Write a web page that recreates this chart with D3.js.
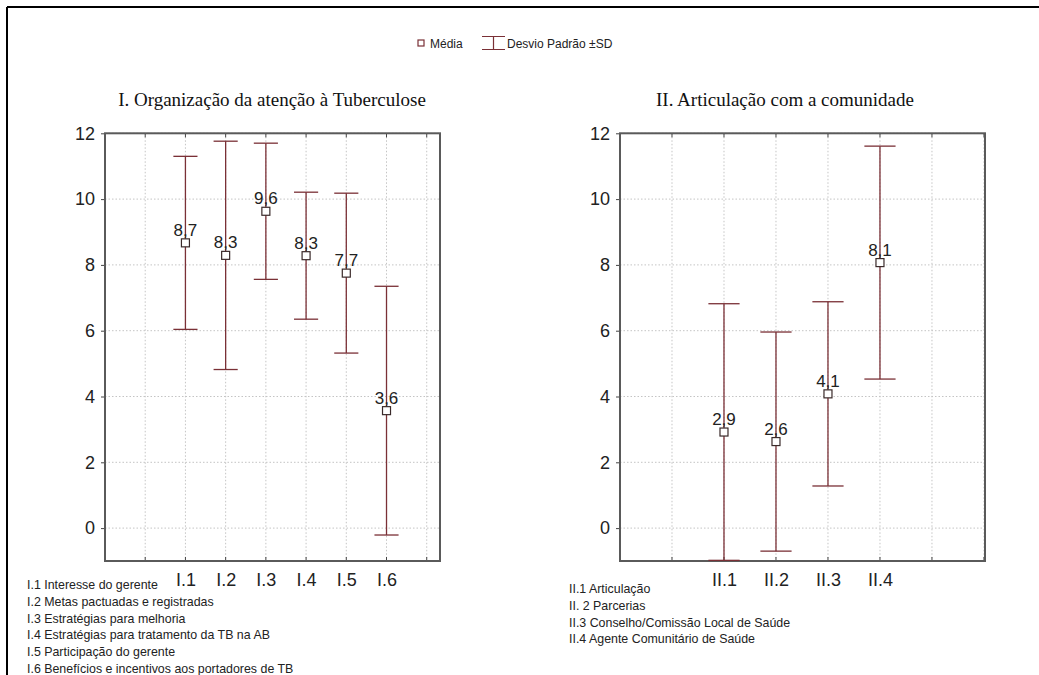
<!DOCTYPE html>
<html>
<head>
<meta charset="utf-8">
<script src="https://cdn.jsdelivr.net/npm/d3@7"></script>
<style>
  body { margin: 0; background: #fff; }
  svg { display: block; }
</style>
</head>
<body>
<div id="chart"></div>
<script>
// chart size
var width = 1039;
var height = 675;

// panel I data
var catsA = ["I.1", "I.2", "I.3", "I.4", "I.5", "I.6"];
var meanA = [8.67, 8.29, 9.63, 8.28, 7.75, 3.57];
var sdA = [2.63, 3.47, 2.07, 1.93, 2.43, 3.78];
var labelA = ["8,7", "8,3", "9,6", "8,3", "7,7", "3,6"];
var notesA = [
  "I.1 Interesse do gerente",
  "I.2 Metas pactuadas e registradas",
  "I.3 Estratégias para melhoria",
  "I.4 Estratégias para tratamento da TB na AB",
  "I.5 Participação do gerente",
  "I.6 Benefícios e incentivos aos portadores de TB"
];

// panel II data
var catsB = ["II.1", "II.2", "II.3", "II.4"];
var meanB = [2.92, 2.63, 4.08, 8.07];
var sdB = [3.9, 3.33, 2.8, 3.54];
var labelB = ["2,9", "2,6", "4,1", "8,1"];
var notesB = [
  "II.1 Articulação",
  "II. 2 Parcerias",
  "II.3 Conselho/Comissão Local de Saúde",
  "II.4 Agente Comunitário de Saúde"
];

var yTicks = [0, 2, 4, 6, 8, 10, 12];

var lineColor = "#7a3036";

var svg = d3.select("#chart").append("svg")
    .attr("width", width).attr("height", height);

// outer border (top and left)
svg.append("line").attr("x1", 7).attr("x2", width).attr("y1", 7).attr("y2", 7)
    .attr("stroke", "#000").attr("stroke-width", 2);
svg.append("line").attr("x1", 7).attr("x2", 7).attr("y1", 7).attr("y2", height)
    .attr("stroke", "#000").attr("stroke-width", 2);

// legend
var leg = svg.append("g").attr("font-family", "Liberation Sans, Arial, sans-serif")
    .attr("font-size", 12).attr("fill", "#222");
leg.append("rect").attr("x", 418).attr("y", 40).attr("width", 6).attr("height", 6)
    .attr("fill", "#fff").attr("stroke", lineColor).attr("stroke-width", 1.2);
leg.append("text").attr("x", 430).attr("y", 47.5).text("Média");
leg.append("path").attr("d", "M482,36.5H505M493.5,36.5V49.5M482,49.5H505")
    .attr("stroke", lineColor).attr("fill", "none").attr("stroke-width", 1.2);
leg.append("text").attr("x", 507).attr("y", 47.5).text("Desvio Padrão ±SD");

function panel(opt) {
    var g = svg.append("g");
    var x = d3.scaleLinear().domain([0, opt.xMax]).range([opt.left, opt.right]);
    var y = d3.scaleLinear().domain([-1, 12]).range([561, 133.3]);
    var step = x(1) - x(0);

    // title
    g.append("text")
        .attr("x", opt.titleX).attr("y", 106)
        .attr("text-anchor", "middle")
        .attr("font-family", "Liberation Serif, Times New Roman, serif")
        .attr("font-size", 19).attr("fill", "#111")
        .text(opt.title);

    var xt = d3.range(1, Math.floor(opt.xMax) + 1);

    // grid
    g.selectAll(".gx").data(xt).enter().append("line")
        .attr("x1", d => x(d)).attr("x2", d => x(d))
        .attr("y1", y(12)).attr("y2", y(-1))
        .attr("stroke", "#c4c4c4").attr("stroke-dasharray", "1.5,2");
    g.selectAll(".gy").data(yTicks).enter().append("line")
        .attr("x1", x(0)).attr("x2", x(opt.xMax))
        .attr("y1", d => y(d)).attr("y2", d => y(d))
        .attr("stroke", "#c4c4c4").attr("stroke-dasharray", "1.5,2");

    // left axis
    var ay = d3.axisLeft(y).tickValues(yTicks).tickSize(4).tickPadding(6);
    var gy = g.append("g").attr("transform", "translate(" + x(0) + ",0)").call(ay);
    gy.select(".domain").remove();
    gy.selectAll("line").attr("stroke", "#444");
    gy.selectAll("text").attr("font-family", "Liberation Sans, Arial, sans-serif")
        .attr("font-size", 18).attr("fill", "#222");

    // bottom axis with category labels
    var ax = d3.axisBottom(x).tickValues(opt.cats.map((c, i) => i + 2))
        .tickFormat((d, i) => opt.cats[i]).tickSize(0).tickPadding(12);
    var gx = g.append("g").attr("transform", "translate(0," + y(-1) + ")").call(ax);
    gx.select(".domain").remove();
    gx.selectAll("text").attr("font-family", "Liberation Sans, Arial, sans-serif")
        .attr("font-size", 18).attr("fill", "#222");

    // inner ticks top and bottom
    g.selectAll(".tt").data(xt).enter().append("line")
        .attr("x1", d => x(d)).attr("x2", d => x(d))
        .attr("y1", y(12)).attr("y2", y(12) + 4).attr("stroke", "#444");
    g.selectAll(".tb").data(xt).enter().append("line")
        .attr("x1", d => x(d)).attr("x2", d => x(d))
        .attr("y1", y(-1)).attr("y2", y(-1) - 4).attr("stroke", "#444");

    // frame
    g.append("rect").attr("x", x(0)).attr("y", y(12))
        .attr("width", x(opt.xMax) - x(0)).attr("height", y(-1) - y(12))
        .attr("fill", "none").attr("stroke", "#5a5a5a").attr("stroke-width", 2);

    var data = opt.cats.map((c, i) => ({ pos: i + 2, m: opt.mean[i], sd: opt.sd[i], lab: opt.labels[i] }));
    var cap = step * 0.3;

    var bars = g.selectAll(".eb").data(data).enter().append("g");
    bars.append("line")
        .attr("x1", d => x(d.pos)).attr("x2", d => x(d.pos))
        .attr("y1", d => y(Math.min(12, d.m + d.sd))).attr("y2", d => y(Math.max(-1, d.m - d.sd)))
        .attr("stroke", lineColor).attr("stroke-width", 1.3);
    bars.append("line")
        .attr("x1", d => x(d.pos) - cap).attr("x2", d => x(d.pos) + cap)
        .attr("y1", d => y(d.m + d.sd)).attr("y2", d => y(d.m + d.sd))
        .attr("stroke", lineColor).attr("stroke-width", 1.3);
    bars.append("line")
        .attr("x1", d => x(d.pos) - cap).attr("x2", d => x(d.pos) + cap)
        .attr("y1", d => y(Math.max(-1, d.m - d.sd))).attr("y2", d => y(Math.max(-1, d.m - d.sd)))
        .attr("stroke", lineColor).attr("stroke-width", 1.3);
    bars.append("text")
        .attr("x", d => x(d.pos)).attr("y", d => y(d.m) - 7)
        .attr("text-anchor", "middle")
        .attr("font-family", "Liberation Sans, Arial, sans-serif")
        .attr("font-size", 17).attr("fill", "#222")
        .text(d => d.lab);
    bars.append("rect")
        .attr("x", d => x(d.pos) - 4).attr("y", d => y(d.m) - 4)
        .attr("width", 8).attr("height", 8)
        .attr("fill", "#fff").attr("stroke", "#3a2a2a").attr("stroke-width", 1.2);

    // notes below
    g.selectAll(".note").data(opt.notes).enter().append("text")
        .attr("x", opt.noteX).attr("y", (d, i) => opt.noteY + i * 16.8)
        .attr("font-family", "Liberation Sans, Arial, sans-serif")
        .attr("font-size", 12.4).attr("fill", "#222")
        .text(d => d);
}

panel({
    cats: catsA, mean: meanA, sd: sdA, labels: labelA, notes: notesA,
    title: "I. Organização da atenção à Tuberculose", titleX: 272,
    left: 105, right: 440, xMax: 8.33, noteX: 27, noteY: 589
});

panel({
    cats: catsB, mean: meanB, sd: sdB, labels: labelB, notes: notesB,
    title: "II. Articulação com a comunidade", titleX: 785,
    left: 620, right: 985, xMax: 7.02, noteX: 569, noteY: 593
});
</script>
</body>
</html>
